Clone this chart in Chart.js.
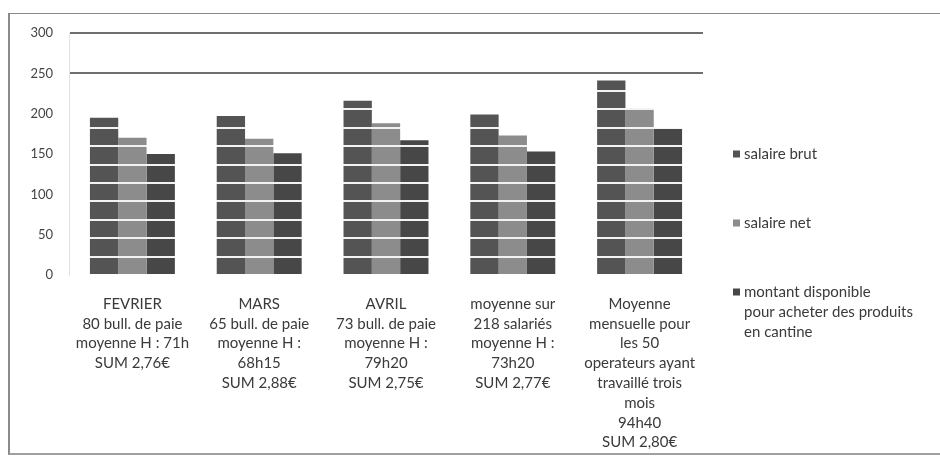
<!DOCTYPE html>
<html lang="fr">
<head>
<meta charset="utf-8">
<title>Salaire brut, salaire net et montant disponible</title>
<script src="https://cdn.jsdelivr.net/npm/chart.js@4.4.1/dist/chart.umd.min.js"></script>
<style>
  html, body { margin: 0; padding: 0; background: #ffffff; }
  body { width: 940px; height: 459px; position: relative; overflow: hidden; }
  #frame {
    position: absolute; left: 8px; top: 13px; width: 940px; height: 442px;
    border-top: 1px solid #8a8a8a; border-left: 2px solid #8a8a8a; border-bottom: 2px solid #a0a0a0;
    box-sizing: border-box;
  }
  #wrap { position: absolute; left: 0; top: 0; width: 940px; height: 459px; }
</style>
</head>
<body>
<div id="frame"></div>
<div id="wrap"><canvas id="chart" width="940" height="459"></canvas></div>
<script>
// Catégories (étiquettes multilignes de l'axe horizontal)
const categories = [
  ["FEVRIER", "80 bull. de paie", "moyenne H : 71h", "SUM 2,76€"],
  ["MARS", "65 bull. de paie", "moyenne H :", "68h15", "SUM 2,88€"],
  ["AVRIL", "73 bull. de paie", "moyenne H :", "79h20", "SUM 2,75€"],
  ["moyenne sur", "218 salariés", "moyenne H :", "73h20", "SUM 2,77€"],
  ["Moyenne", "mensuelle pour", "les 50", "operateurs ayant", "travaillé trois", "mois", "94h40", "SUM 2,80€"]
];

// Noms des séries (lignes de la légende)
const seriesNames = [
  ["salaire brut"],
  ["salaire net"],
  ["montant disponible", "pour acheter des produits", "en cantine"]
];

// Valeurs des séries
const salaireBrut = [195, 197, 216, 199, 241];
const salaireNet = [170, 169, 188, 173, 207];
const montantDisponible = [150, 151, 167, 153, 182];

// Graduations de l'axe vertical
const yTicks = [0, 50, 100, 150, 200, 250, 300];

const FONT = "Lato, 'Open Sans', 'Liberation Sans', sans-serif";
const TEXT = "#3a3a3a";

// Remplissage rayé : bandes blanches horizontales sur fond gris
const STRIPE_PERIOD = 18.4;
function stripedFill(base) {
  const n = 10;
  const h = Math.round(STRIPE_PERIOD * n);
  const tile = document.createElement("canvas");
  tile.width = 4; tile.height = h;
  const c = tile.getContext("2d");
  c.fillStyle = base;
  c.fillRect(0, 0, 4, h);
  c.fillStyle = "#f2f2f2";
  for (let i = 0; i < n; i++) {
    c.fillRect(0, Math.round(i * STRIPE_PERIOD), 4, 2);
  }
  const p = c.createPattern(tile, "repeat");
  return { pattern: p, base: base };
}

const fills = [stripedFill("#545454"), stripedFill("#8c8c8c"), stripedFill("#474747")];

// Aligne les bandes sur la ligne du zéro
const stripeAlign = {
  id: "stripeAlign",
  beforeDatasetsDraw(chart) {
    const y0 = chart.scales.y.getPixelForValue(0);
    fills.forEach(f => {
      if (f.pattern.setTransform) f.pattern.setTransform(new DOMMatrix([1, 0, 0, 1, 0, y0 - 1]));
    });
  }
};

// Légende dessinée à droite de la zone de tracé
const sideLegend = {
  id: "sideLegend",
  afterDraw(chart) {
    const ctx = chart.ctx;
    const x = chart.chartArea.right + 30;
    const firstY = 154, step = 69, lineH = 20;
    ctx.save();
    ctx.font = "15px " + FONT;
    ctx.textBaseline = "middle";
    ctx.textAlign = "left";
    chart.data.datasets.forEach((ds, i) => {
      const y = firstY + i * step;
      ctx.fillStyle = fills[i].base;
      ctx.fillRect(x, y - 3.5, 7, 7);
      ctx.fillStyle = TEXT;
      seriesNames[i].forEach((line, k) => {
        ctx.fillText(line, x + 11, y + k * lineH);
      });
    });
    ctx.restore();
  }
};

new Chart(document.getElementById("chart"), {
  type: "bar",
  data: {
    labels: categories,
    datasets: [
      { label: seriesNames[0].join(" "), data: salaireBrut, backgroundColor: fills[0].pattern },
      { label: seriesNames[1].join(" "), data: salaireNet, backgroundColor: fills[1].pattern },
      { label: seriesNames[2].join(" "), data: montantDisponible, backgroundColor: fills[2].pattern }
    ]
  },
  options: {
    responsive: false,
    animation: false,
    events: [],
    layout: { padding: { top: 33, right: 237, left: 0, bottom: 0 } },
    datasets: { bar: { categoryPercentage: 0.67, barPercentage: 1.0, borderWidth: 0 } },
    plugins: { legend: { display: false }, tooltip: { enabled: false }, title: { display: false } },
    scales: {
      x: {
        grid: { display: false, drawTicks: false },
        border: { display: false },
        ticks: {
          color: TEXT,
          font: { family: FONT, size: 15, lineHeight: 1.32 },
          padding: 19,
          maxRotation: 0,
          autoSkip: false
        },
        afterFit(scale) { scale.height = 184; }
      },
      y: {
        min: yTicks[0],
        max: yTicks[yTicks.length - 1],
        afterBuildTicks(scale) { scale.ticks = yTicks.map(v => ({ value: v })); },
        grid: {
          drawTicks: false,
          lineWidth: 2,
          color: ctx => (ctx.tick && ctx.tick.value >= 250 ? "#6f6f6f" : "rgba(0,0,0,0)")
        },
        border: { display: true, color: "#e2e2e2", width: 1 },
        ticks: {
          color: "#444444",
          font: { family: FONT, size: 13 },
          padding: 16
        },
        afterFit(scale) { scale.width = 69; }
      }
    }
  },
  plugins: [stripeAlign, sideLegend]
});
</script>
</body>
</html>
